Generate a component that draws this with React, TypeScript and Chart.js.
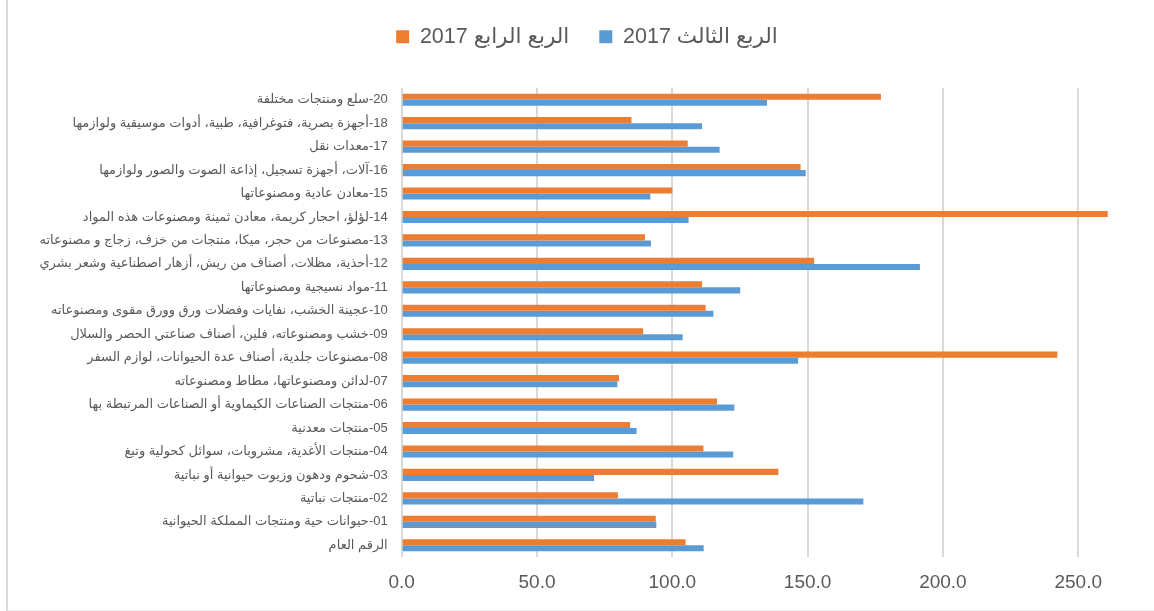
import React, { useEffect, useRef } from 'react';
import { Chart, registerables } from 'chart.js';

Chart.register(...registerables);

// Categories listed top to bottom as in the reference
const categories: string[] = [
  '20-سلع ومنتجات مختلفة',
  '18-أجهزة بصرية، فتوغرافية، طبية، أدوات موسيقية ولوازمها',
  '17-معدات نقل',
  '16-آلات، أجهزة تسجيل، إذاعة الصوت والصور ولوازمها',
  '15-معادن عادية ومصنوعاتها',
  '14-لؤلؤ، احجار كريمة، معادن ثمينة ومصنوعات هذه المواد',
  '13-مصنوعات من حجر، ميكا، منتجات من خزف، زجاج و مصنوعاته',
  '12-أحذية، مظلات، أصناف من ريش، أزهار اصطناعية وشعر بشري',
  '11-مواد نسيجية ومصنوعاتها',
  '10-عجينة الخشب، نفايات وفضلات ورق وورق مقوى ومصنوعاته',
  '09-خشب ومصنوعاته، فلين، أصناف صناعتي الحصر والسلال',
  '08-مصنوعات جلدية، أصناف عدة الحيوانات، لوازم السفر',
  '07-لدائن ومصنوعاتها، مطاط ومصنوعاته',
  '06-منتجات الصناعات الكيماوية أو الصناعات المرتبطة بها',
  '05-منتجات معدنية',
  '04-منتجات الأغدية، مشروبات، سوائل كحولية وتبغ',
  '03-شحوم ودهون وزيوت حيوانية أو نباتية',
  '02-منتجات نباتية',
  '01-حيوانات حية ومنتجات المملكة الحيوانية',
  'الرقم العام',
];

const seriesNames: string[] = ['الربع الرابع 2017', 'الربع الثالث 2017'];

const q4Values: number[] = [
  177.1, 84.9, 105.7, 147.4, 100.0, 260.9, 89.9, 152.4, 111.0, 112.3,
  89.2, 242.3, 80.3, 116.5, 84.4, 111.5, 139.2, 79.9, 93.9, 104.9,
];

const q3Values: number[] = [
  135.0, 111.0, 117.5, 149.3, 91.9, 106.0, 92.1, 191.5, 125.1, 115.2,
  103.8, 146.5, 79.7, 122.9, 86.8, 122.5, 71.1, 170.6, 94.1, 111.6,
];

const xTickValues: number[] = [0, 50, 100, 150, 200, 250];

const FONT = 'Arial, "Liberation Sans", "DejaVu Sans", sans-serif';
const TEXT = '#595959';
const LEGEND_H = 92;
const PAD_LEFT = 14.6;

const legendSpacer = {
  id: 'legendSpacer',
  beforeLayout(chart: any) {
    const legend = chart.legend;
    if (!legend || legend.__patched) return;
    const fit = legend.fit;
    legend.fit = function (this: any) {
      fit.call(this);
      this.height = LEGEND_H;
    };
    legend.__patched = true;
  },
};

export default function App() {
  const ref = useRef<HTMLCanvasElement | null>(null);

  useEffect(() => {
    document.body.style.margin = '0';
    const canvas = ref.current;
    if (!canvas) return;
    Chart.defaults.font.family = FONT;
    const chart = new Chart(canvas, {
      type: 'bar',
      data: {
        labels: categories,
        datasets: [
          {
            label: seriesNames[0],
            data: q4Values,
            backgroundColor: '#ED7D31',
            borderWidth: 0,
            categoryPercentage: 0.52,
            barPercentage: 1,
          },
          {
            label: seriesNames[1],
            data: q3Values,
            backgroundColor: '#5B9BD5',
            borderWidth: 0,
            categoryPercentage: 0.52,
            barPercentage: 1,
          },
        ],
      },
      plugins: [legendSpacer],
      options: {
        indexAxis: 'y',
        responsive: false,
        animation: false,
        devicePixelRatio: 1,
        layout: { padding: { left: PAD_LEFT, right: 29.6, top: 0, bottom: 0 } },
        plugins: {
          legend: {
            position: 'top',
            labels: {
              boxWidth: 13,
              boxHeight: 13,
              padding: 30,
              color: TEXT,
              font: { size: 21.5, family: FONT },
            },
          },
          tooltip: { enabled: false },
        },
        scales: {
          x: {
            min: 0,
            max: 280,
            ticks: {
              stepSize: 50,
              color: TEXT,
              padding: 14,
              font: { size: 19, family: FONT },
              callback: (v: any) => Number(v).toFixed(1),
            },
            afterBuildTicks: (s: any) => {
              s.ticks = xTickValues.map((v) => ({ value: v }));
            },
            afterFit: (s: any) => {
              s.height = 54;
            },
            grid: { color: '#d9d9d9', lineWidth: 2, drawTicks: false },
            border: { display: false },
          },
          y: {
            ticks: {
              color: TEXT,
              padding: 14,
              autoSkip: false,
              font: { size: 13, family: FONT },
              callback: (_v: any, i: number) => '\u200F' + categories[i],
            },
            afterFit: (s: any) => {
              s.width = 401.7 - PAD_LEFT;
            },
            grid: { display: false, drawTicks: false },
            border: { display: false },
          },
        },
      },
    });
    return () => chart.destroy();
  }, []);

  return (
    <div style={{ position: 'relative', width: 1154, height: 611, overflow: 'hidden', background: '#fff' }}>
      <div
        style={{
          position: 'absolute',
          left: 6,
          top: -4,
          width: 1300,
          height: 615,
          borderLeft: '2px solid #d9d9d9',
          borderBottom: '1px solid #ececec',
          boxSizing: 'border-box',
        }}
      />
      <canvas
        ref={ref}
        width={1189}
        height={615}
        style={{ position: 'absolute', left: 0, top: -4, width: 1189, height: 615 }}
      />
    </div>
  );
}
